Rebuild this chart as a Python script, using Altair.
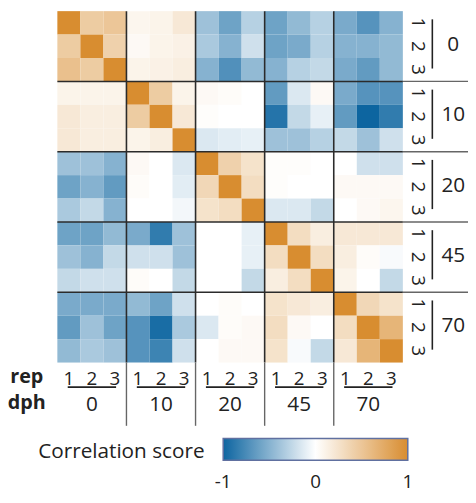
import altair as alt
import pandas as pd

# ---- data ----
dph = ["0", "10", "20", "45", "70"]
reps = ["1", "2", "3"]

corr = [
    [1.00, 0.45, 0.50, 0.08, 0.10, 0.20, -0.40, -0.60, -0.30, -0.60, -0.45, -0.30, -0.55, -0.70, -0.50],
    [0.45, 1.00, 0.40, 0.05, 0.10, 0.12, -0.35, -0.50, -0.20, -0.60, -0.55, -0.30, -0.50, -0.50, -0.45],
    [0.55, 0.45, 1.00, 0.10, 0.12, 0.15, -0.50, -0.72, -0.45, -0.50, -0.30, -0.25, -0.55, -0.65, -0.45],
    [0.10, 0.10, 0.10, 1.00, 0.45, 0.10, 0.05, 0.03, 0.00, -0.65, -0.15, 0.05, -0.55, -0.70, -0.70],
    [0.20, 0.15, 0.15, 0.45, 1.00, 0.20, 0.02, 0.00, 0.00, -0.90, -0.25, -0.10, -0.65, -1.00, -0.85],
    [0.20, 0.15, 0.15, 0.10, 0.15, 1.00, -0.15, -0.12, -0.10, -0.40, -0.40, -0.30, -0.25, -0.40, -0.20],
    [-0.40, -0.40, -0.50, 0.05, 0.00, -0.15, 1.00, 0.40, 0.25, 0.02, 0.02, 0.00, 0.00, -0.20, -0.20],
    [-0.60, -0.50, -0.65, 0.03, 0.00, -0.12, 0.35, 1.00, 0.30, 0.02, 0.00, 0.00, 0.05, 0.05, 0.05],
    [-0.35, -0.25, -0.50, 0.00, 0.00, -0.05, 0.25, 0.30, 1.00, -0.15, -0.15, -0.25, 0.00, 0.05, 0.08],
    [-0.60, -0.60, -0.45, -0.55, -0.85, -0.40, 0.00, 0.00, -0.10, 1.00, 0.30, 0.15, 0.20, 0.20, 0.20],
    [-0.40, -0.50, -0.25, -0.20, -0.20, -0.40, 0.00, 0.00, -0.10, 0.30, 1.00, 0.30, 0.15, 0.03, -0.03],
    [-0.25, -0.20, -0.20, 0.03, 0.00, -0.25, 0.00, 0.00, -0.25, 0.15, 0.30, 1.00, 0.10, 0.00, -0.25],
    [-0.55, -0.55, -0.55, -0.45, -0.60, -0.20, 0.00, 0.03, 0.00, 0.25, 0.20, 0.15, 1.00, 0.35, 0.25],
    [-0.65, -0.40, -0.60, -0.70, -0.95, -0.35, -0.15, 0.03, 0.05, 0.30, 0.05, 0.00, 0.30, 1.00, 0.65],
    [-0.45, -0.35, -0.40, -0.70, -0.80, -0.20, 0.00, 0.05, 0.05, 0.25, -0.03, -0.25, 0.20, 0.65, 1.00],
]

legend_ticks = [-1, 0, 1]

# ---- layout (in cell units) ----
N = len(dph) * len(reps)
W, H = 466, 487
ux = 350 / N
uy = 356 / N
x_dom = [-50 / ux, (W - 50) / ux]
y_dom = [0, H / uy]
FONT = "Open Sans"
TXT = "#222222"

# legend gradient placement (pixels in plot area)
LEG_X, LEG_Y, LEG_LEN, LEG_TH = 218, 433, 187, 22

xs = alt.Scale(domain=x_dom, nice=False, zero=False)
ys = alt.Scale(domain=y_dom, nice=False, zero=False, reverse=True)

cells = pd.DataFrame(
    [{"c": j, "r": i, "v": corr[i][j]} for i in range(N) for j in range(N)]
)

heat = (
    alt.Chart(cells)
    .transform_calculate(c2="datum.c + 1", r2="datum.r + 1")
    .mark_rect()
    .encode(
        x=alt.X("c:Q", scale=xs, axis=None),
        x2="c2:Q",
        y=alt.Y("r:Q", scale=ys, axis=None),
        y2="r2:Q",
        color=alt.Color(
            "v:Q",
            scale=alt.Scale(domain=[-1, 0, 1], range=["#0d65a0", "#ffffff", "#d88d30"], interpolate="rgb"),
            legend=alt.Legend(
                title=None,
                orient="none",
                direction="horizontal",
                legendX=LEG_X,
                legendY=LEG_Y,
                gradientLength=LEG_LEN,
                gradientThickness=LEG_TH,
                gradientStrokeColor="#6070a0",
                gradientStrokeWidth=1.5,
                values=legend_ticks,
                labelExpr="''",
                labelFontSize=1,
            ),
        ),
    )
)

G = len(dph)
k = len(reps)
bounds = [b * k for b in range(1, G)]

inner = pd.DataFrame(
    [{"x": b, "y": 0, "x2": b, "y2": N} for b in bounds]
    + [{"x": 0, "y": b, "x2": N, "y2": b} for b in bounds]
)
outer = pd.DataFrame(
    [{"x": b, "y": N, "x2": b, "y2": N + 2.7} for b in bounds]
    + [{"x": N, "y": b, "x2": x_dom[1], "y2": b} for b in bounds]
)
brackets = pd.DataFrame(
    [{"x": g * k + 0.45, "y": N + 1.05, "x2": g * k + k - 0.45, "y2": N + 1.05} for g in range(G)]
    + [{"x": N + 1.28, "y": g * k + 0.35, "x2": N + 1.28, "y2": g * k + k - 0.55} for g in range(G)]
)


def rules(df, color, width):
    return alt.Chart(df).mark_rule(color=color, strokeWidth=width).encode(
        x=alt.X("x:Q", scale=xs, axis=None),
        x2="x2:Q",
        y=alt.Y("y:Q", scale=ys, axis=None),
        y2="y2:Q",
    )


def texts(df, **kw):
    return alt.Chart(df).mark_text(font=FONT, color=TXT, **kw).encode(
        x=alt.X("x:Q", scale=xs, axis=None),
        y=alt.Y("y:Q", scale=ys, axis=None),
        text="t:N",
    )


rep_bottom = pd.DataFrame(
    [{"x": g * k + i + 0.5, "y": N + 0.72, "t": r} for g in range(G) for i, r in enumerate(reps)]
)
rep_right = pd.DataFrame(
    [{"x": N + 0.64, "y": g * k + i + 0.5, "t": r} for g in range(G) for i, r in enumerate(reps)]
)
dph_bottom = pd.DataFrame([{"x": g * k + k / 2, "y": N + 1.81, "t": d} for g, d in enumerate(dph)])
dph_right = pd.DataFrame([{"x": N + 2.19, "y": g * k + k / 2 - 0.05, "t": d} for g, d in enumerate(dph)])
row_titles = pd.DataFrame([{"x": -1.33, "y": N + 0.6, "t": "rep"}, {"x": -1.33, "y": N + 1.73, "t": "dph"}])
leg_title = pd.DataFrame([{"x": 6.39, "y": 18.83, "t": "Correlation score"}])

lo, hi = legend_ticks[0], legend_ticks[-1]
leg_labels = pd.DataFrame(
    [
        {
            "x": (LEG_X - 50 + (t - lo) / (hi - lo) * LEG_LEN) / ux,
            "y": 477 / uy,
            "t": str(t),
        }
        for t in legend_ticks
    ]
)

chart = alt.layer(
    heat,
    rules(inner, "#2b2b2b", 1.6),
    rules(outer, "#666666", 1.4),
    rules(brackets, "#222222", 1.6),
    texts(rep_bottom, fontSize=19),
    texts(rep_right, fontSize=19, angle=90),
    texts(dph_bottom, fontSize=21),
    texts(dph_right, fontSize=21),
    texts(row_titles, fontSize=20, fontWeight="bold"),
    texts(leg_title, fontSize=21, align="right"),
    texts(leg_labels, fontSize=19, baseline="middle"),
).properties(
    width=W, height=H, padding=0, autosize=alt.AutoSizeParams(type="none")
).configure_view(stroke=None)

chart.save("out.html", embed_options={"renderer": "svg", "actions": False})
